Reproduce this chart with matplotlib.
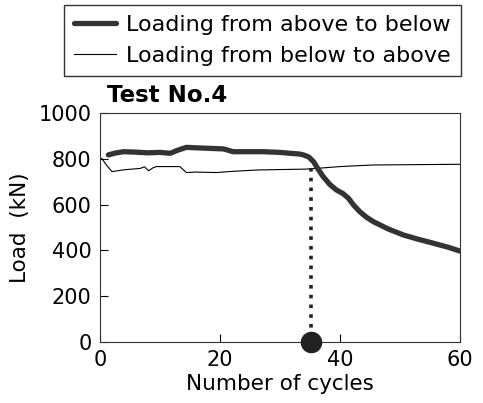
import matplotlib
matplotlib.use("Agg")
import matplotlib.pyplot as plt

# Data
cycles_down = [1.4, 2.5, 3.9, 6, 8, 10, 11.7, 13, 14.4, 16, 18, 20.6, 22.2, 24, 27.2, 30, 31.7, 33.2, 33.9, 34.8,
               35.6, 36.3, 37.2, 38.3, 39.4, 40.5, 41.4, 42.3, 43.3, 44.4, 45.6, 48, 50.6, 53, 55.6, 58, 60]
load_down = [817, 825, 831, 829, 826, 828, 824, 838, 850, 848, 846, 843, 831, 831, 831, 828, 824, 821, 817, 808,
             787, 757, 722, 688, 664, 648, 628, 597, 569, 545, 525, 494, 467, 449, 431, 414, 397]

cycles_up = [0.3, 1.0, 2.0, 4, 6.7, 7.4, 8.1, 8.8, 9.4, 11, 13.3, 14.4, 16, 19.4, 22, 26.1, 30, 34.4, 37, 40,
             43, 45.6, 50, 55, 60]
load_up = [802, 775, 744, 752, 758, 765, 748, 760, 766, 766, 766, 740, 742, 740, 745, 751, 753, 755, 760, 766,
           770, 773, 774, 775, 776]

failure_cycle = 35.2
failure_load = 760

series_labels = ["Loading from above to below", "Loading from below to above"]

fig = plt.figure(figsize=(4.83, 4.03), dpi=100)
ax = fig.add_axes([100/483, 1-342/403, 360/483, 229/403])

l1, = ax.plot(cycles_down, load_down, color="#333333", lw=3.8, solid_capstyle="round", label=series_labels[0], zorder=3)
l2, = ax.plot(cycles_up, load_up, color="black", lw=0.8, label=series_labels[1], zorder=2)

ax.plot([failure_cycle, failure_cycle], [failure_load, 20], color="#222222", lw=2.6, linestyle=(0, (1, 1.7)), zorder=4)
ax.plot([failure_cycle], [0], marker="o", markersize=14.5, color="#222222", clip_on=False, zorder=5)

ax.set_xlim(0, 60)
ax.set_ylim(0, 1000)
ax.set_xticks([0, 20, 40, 60])
ax.set_yticks([0, 200, 400, 600, 800, 1000])
ax.tick_params(direction="in", length=6, width=0.8, labelsize=15, top=False, right=False)
ax.tick_params(axis="y", pad=6)
ax.tick_params(axis="x", pad=6)
for s in ax.spines.values():
    s.set_linewidth(0.8)
    s.set_color("#333333")

ax.set_xlabel("Number of cycles", fontsize=15.5, labelpad=3)
ax.set_ylabel("Load  (kN)", fontsize=15.5, labelpad=6)

fig.text(107/483, 1-95/403, "Test No.4", fontsize=16.5, fontweight="bold", va="center", ha="left")

fig.legend(handles=[l1, l2], loc="upper right", bbox_to_anchor=(461/483, 1-5/403), fontsize=16,
           frameon=True, fancybox=False, edgecolor="black", handlelength=1.9, handletextpad=0.45,
           borderpad=0.45, labelspacing=0.5, borderaxespad=0)

fig.savefig("out.png", dpi=100)
